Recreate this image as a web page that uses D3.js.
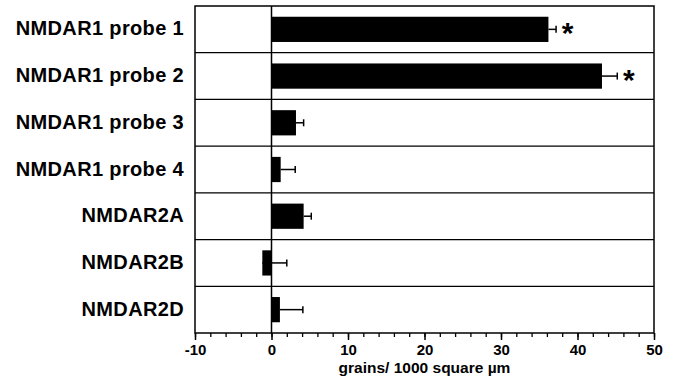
<!DOCTYPE html>
<meta charset="utf-8">
<style>
  body { margin: 0; background: #fff; }
  text { font-family: "Liberation Sans", Arial, Helvetica, sans-serif; font-weight: bold; fill: #000; }
</style>
<body>
<script src="https://d3js.org/d3.v7.min.js"></script>
<script>
var categories = ["NMDAR1 probe 1", "NMDAR1 probe 2", "NMDAR1 probe 3", "NMDAR1 probe 4",
                  "NMDAR2A", "NMDAR2B", "NMDAR2D"];
var values = [36.2, 43.2, 3.2, 1.2, 4.2, -1.2, 1.1];
var errors = [1.0, 2.0, 1.0, 1.9, 1.0, 3.2, 3.0];
var significant = [true, true, false, false, false, false, false];
var majorTicks = [-10, 0, 10, 20, 30, 40, 50];
var minorTicks = d3.range(-10, 51, 2);
var xTitle = "grains/ 1000 square \u00b5m";

var width = 677,
    height = 384,
    plotLeft = 195, plotRight = 654, plotTop = 6, plotBottom = 333;

var svg = d3.select("body").append("svg")
    .attr("width", width)
    .attr("height", height);

var x = d3.scaleLinear()
    .domain([-10, 50])
    .range([plotLeft, plotRight]);

var y = d3.scaleBand()
    .domain(categories)
    .range([plotTop, plotBottom])
    .paddingInner(0.46)
    .paddingOuter(0.23);

var data = categories.map(function(c, i) {
  return {name: c, value: values[i], err: errors[i], sig: significant[i]};
});

// row separators
svg.append("g").selectAll("line")
    .data(d3.range(1, categories.length))
    .enter().append("line")
    .attr("x1", plotLeft).attr("x2", plotRight)
    .attr("y1", function(i) { return plotTop + i * y.step(); })
    .attr("y2", function(i) { return plotTop + i * y.step(); })
    .attr("stroke", "#000")
    .attr("stroke-width", 1.3);

// error whiskers (drawn under the bars)
var whisk = svg.append("g").attr("stroke", "#000").attr("stroke-width", 1.5);
data.forEach(function(d) {
  var cy = y(d.name) + y.bandwidth() / 2;
  whisk.append("line")
      .attr("x1", x(d.value)).attr("x2", x(d.value + d.err))
      .attr("y1", cy).attr("y2", cy);
  whisk.append("line")
      .attr("x1", x(d.value + d.err)).attr("x2", x(d.value + d.err))
      .attr("y1", cy - 3.5).attr("y2", cy + 3.5);
});

// bars
svg.append("g").selectAll("rect")
    .data(data)
    .enter().append("rect")
    .attr("x", function(d) { return x(Math.min(0, d.value)); })
    .attr("width", function(d) { return Math.abs(x(d.value) - x(0)); })
    .attr("y", function(d) { return y(d.name); })
    .attr("height", y.bandwidth())
    .attr("fill", "#000");

// asterisks
svg.append("g").selectAll("text")
    .data(data.filter(function(d) { return d.sig; }))
    .enter().append("text")
    .attr("x", function(d) { return x(d.value + d.err) + 11.5; })
    .attr("y", function(d) { return y(d.name) + y.bandwidth() / 2 + 14; })
    .attr("text-anchor", "middle")
    .style("font-size", "30px")
    .text("*");

// zero line
svg.append("line")
    .attr("x1", x(0)).attr("x2", x(0))
    .attr("y1", plotTop).attr("y2", plotBottom)
    .attr("stroke", "#000")
    .attr("stroke-width", 1.5);

// frame
svg.append("rect")
    .attr("x", plotLeft).attr("y", plotTop)
    .attr("width", plotRight - plotLeft).attr("height", plotBottom - plotTop)
    .attr("fill", "none")
    .attr("stroke", "#000")
    .attr("stroke-width", 1.5);

// row labels
svg.append("g").selectAll("text")
    .data(categories)
    .enter().append("text")
    .attr("x", 184)
    .attr("y", function(c) { return y(c) + y.bandwidth() / 2 + 6; })
    .attr("text-anchor", "end")
    .style("font-size", "20px")
    .style("letter-spacing", "0.35px")
    .text(function(c) { return c; });

// x axis: minor and major ticks
var minorAxis = d3.axisBottom(x)
    .tickValues(minorTicks)
    .tickSize(4)
    .tickFormat("");
var gMinor = svg.append("g")
    .attr("transform", "translate(0," + plotBottom + ")")
    .call(minorAxis);
gMinor.select(".domain").remove();
gMinor.selectAll("line").attr("stroke-width", 1.3);

var xAxis = d3.axisBottom(x)
    .tickValues(majorTicks)
    .tickSize(7)
    .tickPadding(4)
    .tickFormat(function(d) { return String(d); });
var gx = svg.append("g")
    .attr("transform", "translate(0," + plotBottom + ")")
    .call(xAxis);
gx.attr("font-family", null).attr("font-size", null);
gx.select(".domain").remove();
gx.selectAll("line").attr("stroke-width", 1.5);
gx.selectAll("text")
    .style("font-size", "15px");

svg.append("text")
    .attr("x", (plotLeft + plotRight) / 2)
    .attr("y", 373)
    .attr("text-anchor", "middle")
    .style("font-size", "15.5px")
    .text(xTitle);
</script>
</body>
